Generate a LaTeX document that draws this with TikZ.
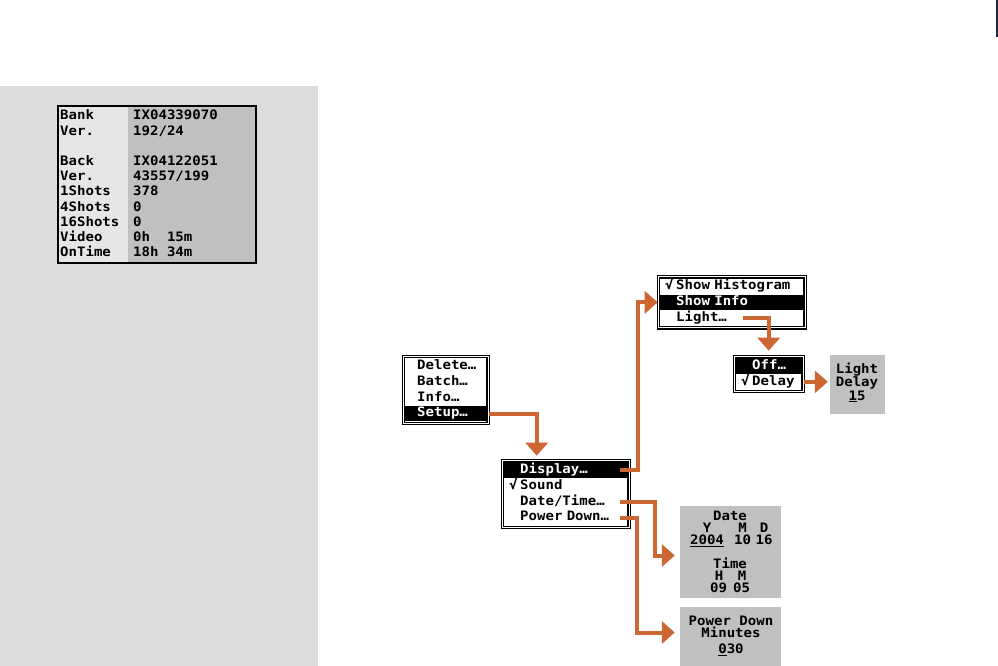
\documentclass[tikz,border=0pt]{standalone}
\usepackage{fontspec}
\usetikzlibrary{arrows.meta,positioning,fit}
\newfontfamily\lcdfont[FakeStretch=1.08]{DejaVu Sans Mono}

\definecolor{panelgray}{HTML}{DCDCDC}
\definecolor{lcdgray}{HTML}{C0C0C0}
\definecolor{lcdlight}{HTML}{E6E6E6}
\definecolor{flowarrow}{HTML}{CC6633}
\definecolor{edgenavy}{HTML}{1C2A40}

\newcommand{\ckd}{\makebox[11pt][l]{√}}
\newcommand{\unc}{\hspace*{11pt}}

\tikzset{
  menurow/.style={font=\lcdfont\bfseries\fontsize{13}{14}\selectfont,
    minimum height=15.5pt, inner ysep=0pt, inner xsep=5pt,
    text height=9.5pt, text depth=3pt, align=left, text width=#1},
  menusel/.style={menurow=#1, fill=black, text=white},
  menuframe/.style={draw=black, line width=1.2pt, double=white,
    double distance=1pt, inner sep=1.7pt},
  lcdbox/.style={fill=lcdgray, inner sep=0pt},
  lcdtext/.style={font=\lcdfont\bfseries\fontsize{13}{14}\selectfont,
    inner sep=0pt, text height=9pt, text depth=2.5pt},
  flow/.style={draw=flowarrow, line width=4pt, -{Triangle[length=13pt,width=22pt]}}
}

\begin{document}
\begin{tikzpicture}[x=1pt,y=-1pt]
  % Keep the page frame of the original artwork.
  \useasboundingbox (0,0) rectangle (998,666);

  % Side panel and info screen.
  \fill[panelgray] (0,86) rectangle (318,666);
  \draw[line width=2pt, fill=lcdgray] (58,106) rectangle (256,263);
  \fill[lcdlight] (59,107) rectangle (128,262);
  \node[anchor=north west, inner sep=0pt,
    font=\lcdfont\bfseries\fontsize{13}{15.2}\selectfont] (infotext) at (60,109.1)
    {\begin{tabular}{@{}p{73pt}@{}l@{}}
      Bank & IX04339070\\
      Ver. & 192/24\\
      & \\
      Back & IX04122051\\
      Ver. & 43557/199\\
      1Shots & 378\\
      4Shots & 0\\
      16Shots & 0\\
      Video & 0h~~15m\\
      OnTime & 18h 34m
    \end{tabular}};

  % Main menu.
  \node[menurow=79pt, inner xsep=1pt, anchor=north west] (delitem) at (405,358) {\unc Delete…};
  \node[menurow=79pt, inner xsep=1pt, below=0pt of delitem] (batchitem) {\unc Batch…};
  \node[menurow=79pt, inner xsep=1pt, below=0pt of batchitem] (infoitem) {\unc Info…};
  \node[menusel=79pt, inner xsep=1pt, below=0pt of infoitem] (setupitem) {\unc Setup…};
  \node[menuframe, fit=(delitem)(setupitem)] (mainmenu) {};

  % Setup menu.
  \node[menusel=113pt, anchor=north west] (dispitem) at (504,462) {\unc Display…};
  \node[menurow=113pt, below=0pt of dispitem] (sounditem) {\ckd Sound};
  \node[menurow=113pt, below=0pt of sounditem] (dateitem) {\unc Date/Time…};
  \node[menurow=113pt, below=0pt of dateitem] (pwritem) {\unc Power Down…};
  \node[menuframe, fit=(dispitem)(pwritem)] (setupmenu) {};

  % Display menu.
  \node[menurow=133pt, anchor=north west] (histitem) at (660,278.5) {\ckd Show Histogram};
  \node[menusel=133pt, below=0pt of histitem] (showinfoitem) {\unc Show Info};
  \node[menurow=133pt, below=0pt of showinfoitem] (lightitem) {\unc Light…};
  \node[menuframe, fit=(histitem)(lightitem)] (dispmenu) {};

  % Light menu.
  \node[menusel=55pt, anchor=north west] (offitem) at (736,358) {\unc Off…};
  \node[menurow=55pt, below=0pt of offitem] (delayitem) {\ckd Delay};
  \node[menuframe, fit=(offitem)(delayitem)] (lightmenu) {};

  % Value screens.
  \node[lcdbox, minimum width=55, minimum height=59] (ldbox) at (857.5,384.5) {};
  \node[lcdbox, minimum width=101, minimum height=92] (datebox) at (730.5,551.5) {};
  \node[lcdbox, minimum width=101, minimum height=59] (pwrbox) at (730.5,636.5) {};

  \foreach \px/\py/\txt [count=\n] in {857/370/Light, 857/383/Delay, 857/397/\underline{1}5}
    \node[lcdtext] (ldline\n) at (\px,\py) {\txt};
  \foreach \px/\py/\txt [count=\n] in {730/517/Date, 707/529/Y, 742.5/529/M, 764/529/D,
      707/541/\underline{2004}, 742.5/541/10, 764/541/16, 730/565/Time,
      719/577/H, 742/577/M, 718.5/589/09, 741.5/589/05}
    \node[lcdtext] (dtline\n) at (\px,\py) {\txt};
  \foreach \px/\py/\txt [count=\n] in {731/622/Power Down, 731/634/Minutes, 731/650/\underline{0}30}
    \node[lcdtext] (pwline\n) at (\px,\py) {\txt};

  % Flow arrows between the screens.
  \coordinate (setupin) at ([xshift=-29pt]setupmenu.north);
  \coordinate (setupout) at ([xshift=-10pt]setupmenu.east);
  \coordinate (dispin) at (dispmenu.west |- showinfoitem);
  \coordinate (lightout) at ([xshift=-26pt]lightmenu.north);
  \coordinate (datein) at ([yshift=-4pt]datebox.west);
  \coordinate (pwrin) at ([yshift=4pt]pwrbox.west);

  \draw[flow, shorten >=4pt] (mainmenu.east |- setupitem) -| (setupin);
  \draw[flow] (setupout |- dispitem) -| ([xshift=-20pt]dispin) -- (dispin);
  \draw[flow, shorten >=5pt] (lightout |- lightitem) -| (lightmenu.north);
  \draw[flow, shorten >=2pt] (lightmenu.east |- delayitem) -- (ldbox.west |- delayitem);
  \draw[flow, shorten >=5pt] (setupout |- dateitem) -| ([xshift=-25pt]datein) -- (datein);
  \draw[flow, shorten >=5pt] (setupout |- pwritem) -| ([xshift=-43pt]pwrin) -- (pwrin);

  % Edge mark at the top right.
  \draw[edgenavy, line width=1.5pt] (997,0) -- (997,37);
\end{tikzpicture}
\end{document}
